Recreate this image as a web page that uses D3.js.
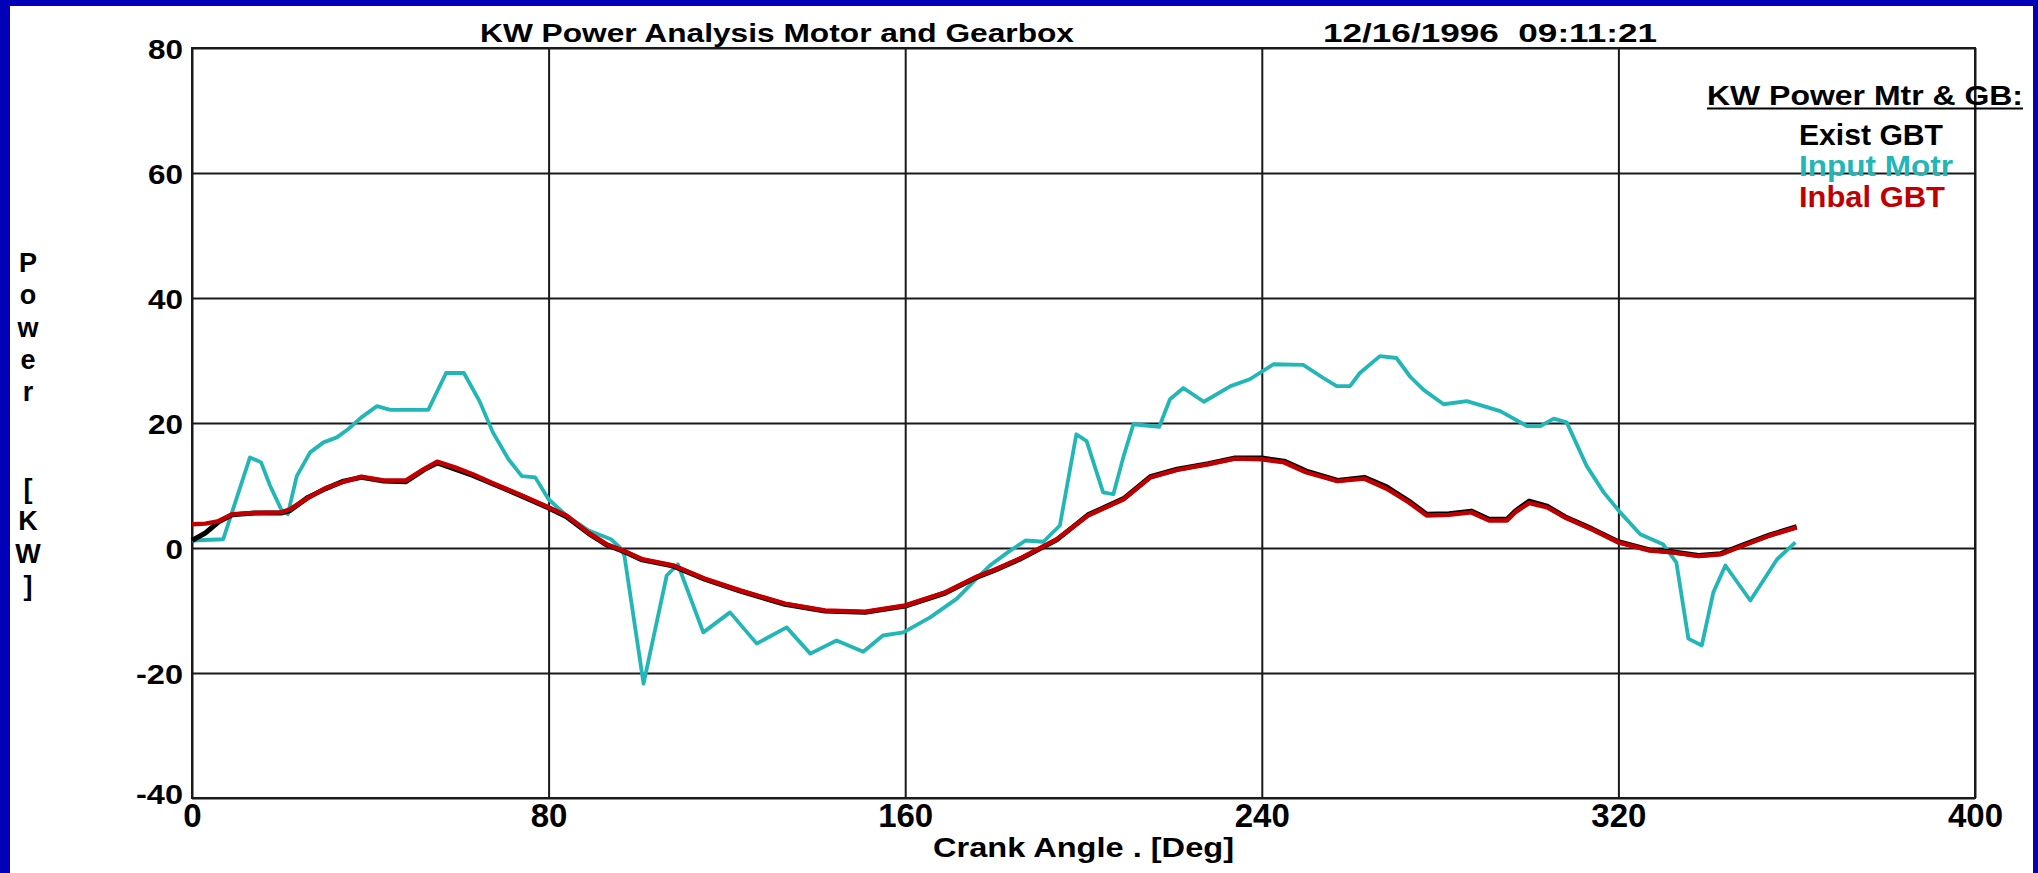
<!DOCTYPE html>
<html>
<head>
<meta charset="utf-8">
<script src="https://cdn.jsdelivr.net/npm/d3@7"></script>
<style>
  body { margin: 0; background: #0500b4; }
  text { font-family: "Liberation Sans", Arial, sans-serif; font-weight: bold; fill: #000; }
</style>
</head>
<body>
<script>
// tick values
let xTicks = [0, 80, 160, 240, 320, 400];
let yTicks = [-40, -20, 0, 20, 40, 60, 80];

// gearbox series (shared crank angles)
let gbAngle = [0, 3, 6, 9, 14, 20, 22, 26, 30, 34, 38, 43, 48, 52, 55, 59, 63, 67, 74, 80,
  84, 89, 93, 97, 101, 108, 115, 123, 133, 142, 151, 160, 169, 176, 180, 186, 194, 201, 209, 215,
  221, 228, 234, 240, 245, 250, 257, 263, 268, 273, 277, 282, 287, 291, 295, 297, 300, 304, 308, 314,
  320, 327, 332, 338, 343, 348, 354, 360];
let existKW = [1.2, 2.4, 4.2, 5.3, 5.6, 5.6, 6.0, 8.1, 9.5, 10.7, 11.3, 10.7, 10.6, 12.5, 13.6, 12.6, 11.6, 10.4, 8.3, 6.4,
  5.0, 2.3, 0.5, -0.6, -1.9, -2.9, -5.0, -6.9, -9.0, -10.1, -10.3, -9.3, -7.2, -4.7, -3.6, -1.7, 1.3, 5.3, 7.9, 11.4,
  12.6, 13.5, 14.4, 14.4, 13.9, 12.3, 10.8, 11.3, 9.8, 7.5, 5.4, 5.5, 5.9, 4.6, 4.6, 6.0, 7.5, 6.7, 5.0, 3.1,
  1.0, -0.3, -0.6, -1.2, -0.9, 0.5, 2.1, 3.4];
let inbalKW = [3.8, 3.9, 4.3, 5.4, 5.6, 5.7, 6.2, 8.0, 9.6, 10.6, 11.4, 10.8, 10.8, 12.6, 13.8, 12.9, 11.8, 10.5, 8.4, 6.5,
  5.2, 2.4, 0.6, -0.5, -1.8, -2.8, -4.9, -6.8, -8.9, -10.0, -10.2, -9.2, -7.1, -4.6, -3.5, -1.6, 1.4, 5.2, 7.8, 11.3,
  12.5, 13.4, 14.3, 14.2, 13.7, 12.1, 10.7, 11.1, 9.5, 7.3, 5.2, 5.3, 5.7, 4.4, 4.4, 5.8, 7.2, 6.5, 4.9, 3.0,
  0.9, -0.4, -0.7, -1.3, -1.0, 0.4, 2.0, 3.3];

// input motor series
let motorAngle = [0, 7, 13, 15.5, 17.5, 20, 21.5, 23.5, 26.5, 29.5, 32.5, 35, 38, 41.5, 44.5, 53, 57, 61, 64.5, 67.5,
  71, 74, 77, 80, 84, 89, 94, 96, 97, 101.3, 106.5, 109, 114.7, 120.7, 126.7, 133.4, 138.7, 144.6, 150.6, 155,
  159.6, 165.6, 171.6, 176, 179, 183, 187, 191, 194.7, 198.4, 200.7, 204.4, 206.7, 209, 211.2, 217, 219.4, 222.4, 227, 233,
  237.3, 242.6, 249.3, 253.8, 256.8, 259.8, 262, 266.5, 270.2, 273.3, 276.3, 280.8, 286, 293.5, 299.5, 302.5, 305.5, 308.4, 312.9, 316.7,
  320.4, 324.9, 330, 333, 335.7, 338.7, 341.3, 344, 349.6, 355.6, 359.7];
let motorKW = [1.2, 1.4, 14.5, 13.7, 10, 6.2, 5.4, 11.5, 15.3, 16.9, 17.7, 19, 20.9, 22.7, 22.1, 22.1, 28, 28, 23.5, 18.5,
  14.2, 11.5, 11.3, 7.8, 5.2, 2.8, 1.4, 0.1, -1.2, -21.7, -4.4, -2.6, -13.5, -10.3, -15.3, -12.7, -16.9, -14.8, -16.6, -14,
  -13.5, -11.1, -8.1, -4.9, -2.8, -0.7, 1.2, 1.0, 3.6, 18.2, 17.1, 8.9, 8.6, 14.7, 19.8, 19.4, 23.8, 25.6, 23.4, 25.9,
  27, 29.4, 29.3, 27.2, 25.9, 25.9, 28, 30.7, 30.4, 27.4, 25.3, 23, 23.5, 21.9, 19.5, 19.5, 20.7, 20.1, 13.1, 8.9,
  5.7, 2.2, 0.6, -2.3, -14.5, -15.6, -7.1, -2.8, -8.4, -1.8, 0.9];

let yLabel = 'Power  [KW]'.split('');

let svg = d3.select('body')
  .append('svg')
  .attr('width', 2038)
  .attr('height', 873)
  .style('display', 'block');

// blue frame + white page
svg.append('rect').attr('width', 2038).attr('height', 873).attr('fill', '#0200b8');
svg.append('rect').attr('x', 10).attr('y', 6).attr('width', 2023).attr('height', 867).attr('fill', '#fff');

let plotLeft = 192, plotRight = 1975, plotTop = 48, plotBottom = 798;

let x = d3.scaleLinear().domain([0, 400]).range([plotLeft, plotRight]);
let y = d3.scaleLinear().domain([-40, 80]).range([plotBottom, plotTop]);

// x axis + vertical grid
let gx = svg.append('g')
  .attr('transform', `translate(0,${plotBottom})`)
  .call(d3.axisBottom(x).tickValues(xTicks).tickSize(-(plotBottom - plotTop)).tickFormat(d => String(d)));
gx.select('.domain').remove();
gx.selectAll('line').attr('stroke', '#1a1a1a').attr('stroke-width', 2);
gx.selectAll('text')
  .attr('y', 29).attr('dy', 0)
  .style('font-size', '33px');

// y axis + horizontal grid
let gy = svg.append('g')
  .attr('transform', `translate(${plotLeft},0)`)
  .call(d3.axisLeft(y).tickValues(yTicks).tickSize(-(plotRight - plotLeft)).tickFormat(d => String(d)));
gy.select('.domain').remove();
gy.selectAll('line').attr('stroke', '#1a1a1a').attr('stroke-width', 2);
gy.selectAll('text')
  .attr('x', -9).attr('dy', 0)
  .attr('y', d => d === -40 ? 5 : 10)
  .attr('textLength', d => d < 0 ? 12 + String(-d).length * 17.5 : String(d).length * 17.5)
  .attr('lengthAdjust', 'spacingAndGlyphs')
  .style('font-size', '27px');

// plot frame
svg.append('rect')
  .attr('x', plotLeft).attr('y', plotTop)
  .attr('width', plotRight - plotLeft).attr('height', plotBottom - plotTop)
  .attr('fill', 'none').attr('stroke', '#1a1a1a').attr('stroke-width', 2);

let line = d3.line().x(d => x(d[0])).y(d => y(d[1]));

svg.append('path')
  .datum(d3.zip(motorAngle, motorKW))
  .attr('d', line)
  .attr('fill', 'none').attr('stroke', '#22b6b6').attr('stroke-width', 3.8)
  .attr('stroke-linejoin', 'round');

svg.append('path')
  .datum(d3.zip(gbAngle, existKW))
  .attr('d', line)
  .attr('fill', 'none').attr('stroke', '#000').attr('stroke-width', 5)
  .attr('stroke-linejoin', 'round');

svg.append('path')
  .datum(d3.zip(gbAngle, inbalKW))
  .attr('d', line)
  .attr('fill', 'none').attr('stroke', '#c00000').attr('stroke-width', 4.5)
  .attr('stroke-linejoin', 'round');

// titles
svg.append('text')
  .attr('x', 480).attr('y', 42)
  .attr('textLength', 594).attr('lengthAdjust', 'spacingAndGlyphs')
  .style('font-size', '26px')
  .text('KW Power Analysis Motor and Gearbox');

svg.append('text')
  .attr('x', 1323).attr('y', 42)
  .attr('textLength', 334).attr('lengthAdjust', 'spacingAndGlyphs')
  .style('font-size', '26px')
  .style('white-space', 'pre')
  .text('12/16/1996  09:11:21');

svg.append('text')
  .attr('x', (plotLeft + plotRight) / 2).attr('y', 857)
  .attr('text-anchor', 'middle')
  .attr('textLength', 301).attr('lengthAdjust', 'spacingAndGlyphs')
  .style('font-size', '27px')
  .text('Crank Angle . [Deg]');

// vertical y label, one char per line
svg.append('g').selectAll('text').data(yLabel)
  .enter().append('text')
  .attr('x', 28)
  .attr('y', (d, i) => 272 + i * 32.3)
  .attr('text-anchor', 'middle')
  .style('font-size', '27px')
  .text(d => d);

// legend
svg.append('text')
  .attr('x', 1707).attr('y', 105)
  .attr('textLength', 316).attr('lengthAdjust', 'spacingAndGlyphs')
  .style('font-size', '27px')
  .text('KW Power Mtr & GB:');
svg.append('line')
  .attr('x1', 1707).attr('x2', 2023).attr('y1', 108.5).attr('y2', 108.5)
  .attr('stroke', '#000').attr('stroke-width', 2);

let legendNames = ['Exist GBT', 'Input Motr', 'Inbal GBT'];
let legendColors = ['#000', '#22b6b6', '#c00000'];
let legendWidths = [144, 154, 146];

svg.append('g').selectAll('text').data(legendNames)
  .enter().append('text')
  .attr('x', 1799)
  .attr('y', (d, i) => 145 + i * 31)
  .attr('textLength', (d, i) => legendWidths[i]).attr('lengthAdjust', 'spacingAndGlyphs')
  .style('font-size', '29px')
  .style('fill', (d, i) => legendColors[i])
  .text(d => d);
</script>
</body>
</html>
